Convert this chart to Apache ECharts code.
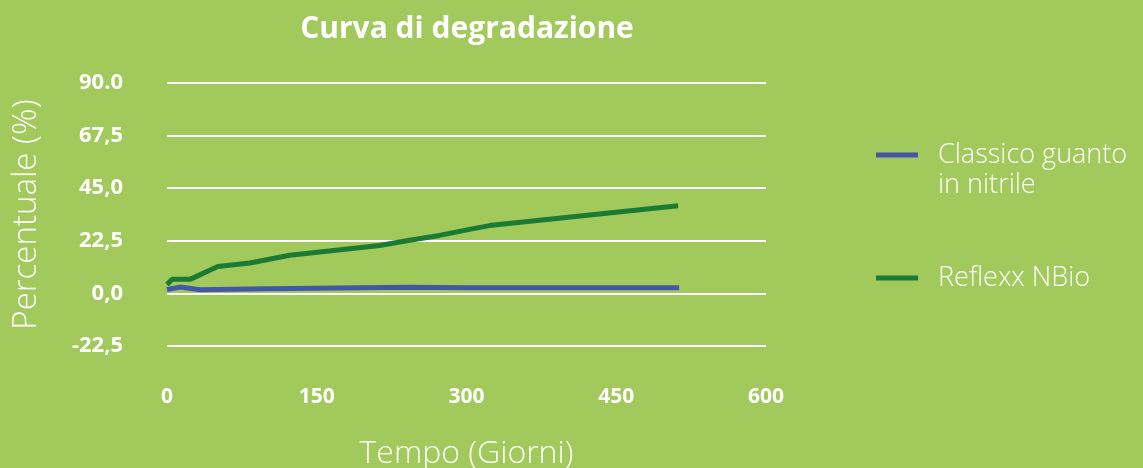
<!DOCTYPE html>
<html>
<head>
<meta charset="utf-8">
<script src="https://cdn.jsdelivr.net/npm/echarts@6/dist/echarts.min.js"></script>
<style>
  html, body { margin: 0; padding: 0; background: #a2c95c; }
  #main { width: 1143px; height: 468px; }
</style>
</head>
<body>
<div id="main"></div>
<script>
// dati
const giorniNBio = [0, 5, 23, 51, 83, 123, 213, 243, 273, 303, 323, 512];
const valoriNBio = [3.8, 6, 6, 11.5, 13, 16.3, 20.5, 22.7, 24.8, 27.4, 29, 37.5];
const giorniClassico = [0, 13, 33, 100, 243, 300, 513];
const valoriClassico = [1.7, 2.7, 1.6, 2.0, 2.6, 2.4, 2.4];
const nomiSerie = ["Classico guanto\nin nitrile", "Reflexx NBio"];

const font = "Open Sans";
const myChart = echarts.init(document.getElementById("main"));

function pairs(xs, ys) {
  return xs.map((x, i) => [x, ys[i]]);
}

const legendaBase = {
  orient: "vertical",
  left: 871,
  itemWidth: 42,
  itemHeight: 5,
  icon: "rect",
  textStyle: { color: "#fff", fontSize: 27, fontWeight: 300, lineHeight: 30, padding: [0, 0, 0, 15], fontFamily: font }
};

const option = {
  backgroundColor: "#a2c95c",
  textStyle: { fontFamily: font },
  title: {
    text: "Curva di degradazione",
    left: 462,
    top: 9,
    textAlign: "center",
    textStyle: { color: "#fff", fontSize: 30, fontWeight: "bold", fontFamily: font }
  },
  legend: [
    Object.assign({}, legendaBase, {
      top: 105,
      data: [nomiSerie[0]],
      // riga vuota sopra: l'icona resta sulla prima riga del testo
      formatter: function (n) { return "\n" + n; }
    }),
    Object.assign({}, legendaBase, {
      top: 258,
      data: [nomiSerie[1]]
    })
  ],
  grid: { left: 167, right: 377, top: 83, bottom: 122, outerBoundsMode: "none", containLabel: false },
  xAxis: {
    type: "value",
    min: 0,
    max: 600,
    interval: 150,
    name: "Tempo (Giorni)",
    nameLocation: "middle",
    nameGap: 92,
    nameTextStyle: { color: "#fff", fontSize: 32, fontWeight: 300, fontFamily: font },
    axisLine: { show: false },
    axisTick: { show: false },
    splitLine: { show: false },
    axisLabel: { color: "#fff", fontSize: 21, fontWeight: "bold", margin: 41, fontFamily: font }
  },
  yAxis: {
    type: "value",
    min: -22.5,
    max: 90,
    interval: 22.5,
    name: "Percentuale (%)",
    nameLocation: "middle",
    nameGap: 124,
    nameTextStyle: { color: "#fff", fontSize: 33, fontWeight: 300, fontFamily: font },
    axisLine: { show: false },
    axisTick: { show: false },
    splitLine: { lineStyle: { color: "#fff", width: 2 } },
    axisLabel: {
      color: "#fff",
      fontSize: 22,
      fontWeight: "bold",
      margin: 44,
      fontFamily: font,
      formatter: function (v) {
        const s = v.toFixed(1);
        return v === 90 ? s : s.replace(".", ",");
      }
    }
  },
  series: [
    {
      name: nomiSerie[0],
      type: "line",
      data: pairs(giorniClassico, valoriClassico),
      showSymbol: false,
      color: "#4357a6",
      lineStyle: { width: 5, color: "#4357a6" },
      z: 3
    },
    {
      name: nomiSerie[1],
      type: "line",
      data: pairs(giorniNBio, valoriNBio),
      showSymbol: false,
      color: "#1b7b34",
      lineStyle: { width: 5, color: "#1b7b34" },
      z: 2
    }
  ]
};

myChart.setOption(option);
</script>
</body>
</html>
